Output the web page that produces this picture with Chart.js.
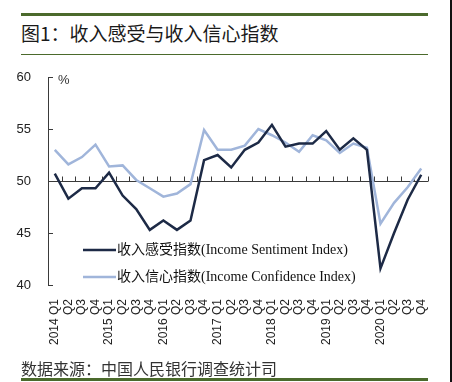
<!DOCTYPE html>
<html>
<head>
<meta charset="utf-8">
<script src="https://cdn.jsdelivr.net/npm/chart.js@4/dist/chart.umd.min.js"></script>
<style>
    html, body { margin: 0; padding: 0; background: #fff; }
    body { width: 452px; height: 382px; position: relative; overflow: hidden; }
    .rule { position: absolute; left: 21px; width: 407px; background: #4b6a2c; }
    .title { position: absolute; left: 21px; top: 23px; font: 19px/19px "Noto Sans CJK SC", sans-serif; color: #1a1a1a; white-space: nowrap; }
    .source { position: absolute; left: 21px; top: 360px; font: 16px/16px "Noto Sans CJK SC", sans-serif; color: #333; white-space: nowrap; }
    .edge { position: absolute; right: 0; top: 0; width: 2px; height: 382px; background: #111; }
    canvas { position: absolute; left: 0; top: 0; }
</style>
</head>
<body>
<div class="rule" style="top:13px;height:3px"></div>
<div class="title">图1：收入感受与收入信心指数</div>
<div class="rule" style="top:54px;height:1px"></div>
<canvas id="incomeChart" width="452" height="382"></canvas>
<div class="source">数据来源：中国人民银行调查统计司</div>
<div class="rule" style="top:378px;height:3px"></div>
<div class="edge"></div>

<script>
// Quarter labels, 2014 Q1 .. 2020 Q4
const quarters = [
    '2014 Q1', 'Q2', 'Q3', 'Q4',
    '2015 Q1', 'Q2', 'Q3', 'Q4',
    '2016 Q1', 'Q2', 'Q3', 'Q4',
    '2017 Q1', 'Q2', 'Q3', 'Q4',
    '2018 Q1', 'Q2', 'Q3', 'Q4',
    '2019 Q1', 'Q2', 'Q3', 'Q4',
    '2020 Q1', 'Q2', 'Q3', 'Q4'
];

// 收入感受指数 (Income Sentiment Index)
const sentimentValues = [
    50.7, 48.3, 49.3, 49.3,
    50.8, 48.6, 47.3, 45.3,
    46.2, 45.3, 46.2, 52.0,
    52.5, 51.3, 53.0, 53.7,
    55.4, 53.3, 53.6, 53.6,
    54.8, 53.0, 54.1, 53.0,
    41.6, 45.0, 48.2, 50.6
];

// 收入信心指数 (Income Confidence Index)
const confidenceValues = [
    53.0, 51.6, 52.3, 53.5,
    51.4, 51.5, 50.1, 49.3,
    48.5, 48.8, 49.7, 54.9,
    53.0, 53.0, 53.4, 55.0,
    54.4, 53.7, 52.8, 54.4,
    53.9, 52.7, 53.6, 53.2,
    45.9, 47.9, 49.4, 51.2
];

const yTicks = [40, 45, 50, 55, 60];
const baseLine = 50;

const seriesLabels = [
    '收入感受指数(Income Sentiment Index)',
    '收入信心指数(Income Confidence Index)'
];
const seriesColors = ['#1d2a46', '#a0b5da'];

/**
 * Axis frame: left axis with inside ticks, and the 50 line with upward ticks
 */
const axisFrame = {
    id: 'axisFrame',
    beforeDatasetsDraw(chart) {
        const { ctx, chartArea, scales } = chart;
        const x = scales.x;
        const y = scales.y;
        ctx.save();
        ctx.strokeStyle = '#3a3a3a';
        ctx.lineWidth = 1;

        // vertical axis
        ctx.beginPath();
        ctx.moveTo(chartArea.left + 0.5, y.getPixelForValue(60));
        ctx.lineTo(chartArea.left + 0.5, y.getPixelForValue(40));
        yTicks.forEach(v => {
            const py = Math.round(y.getPixelForValue(v)) + 0.5;
            ctx.moveTo(chartArea.left, py);
            ctx.lineTo(chartArea.left + 5, py);
        });
        ctx.stroke();

        // line at 50 with tick marks between quarters
        const py = Math.round(y.getPixelForValue(baseLine)) + 0.5;
        const step = x.getPixelForValue(1) - x.getPixelForValue(0);
        ctx.beginPath();
        ctx.moveTo(chartArea.left, py);
        ctx.lineTo(chartArea.right, py);
        for (let i = 1; i <= quarters.length; i++) {
            const px = Math.round(x.getPixelForValue(i) - step / 2) + 0.5;
            ctx.moveTo(px, py);
            ctx.lineTo(px, py - 5);
        }
        ctx.stroke();

        // percent sign
        ctx.fillStyle = '#333';
        ctx.font = '13px "Liberation Sans", Arial, sans-serif';
        ctx.textBaseline = 'middle';
        ctx.fillText('%', chartArea.left + 10, y.getPixelForValue(60) + 3);
        ctx.restore();
    }
};

/**
 * Legend drawn inside the plot area
 */
const innerLegend = {
    id: 'innerLegend',
    afterDatasetsDraw(chart) {
        const { ctx } = chart;
        const rows = [250, 277];
        ctx.save();
        ctx.font = '14px "Liberation Serif", "Noto Sans CJK SC", serif';
        ctx.textBaseline = 'middle';
        chart.data.datasets.forEach((ds, i) => {
            ctx.strokeStyle = ds.borderColor;
            ctx.lineWidth = 2.5;
            ctx.beginPath();
            ctx.moveTo(83, rows[i]);
            ctx.lineTo(116, rows[i]);
            ctx.stroke();
            ctx.fillStyle = '#111';
            ctx.fillText(ds.label, 117, rows[i]);
        });
        ctx.restore();
    }
};

const ctx = document.getElementById('incomeChart').getContext('2d');

new Chart(ctx, {
    type: 'line',
    data: {
        labels: quarters,
        datasets: [{
            label: seriesLabels[0],
            data: sentimentValues,
            borderColor: seriesColors[0],
            borderWidth: 2.5,
            pointRadius: 0,
            tension: 0
        }, {
            label: seriesLabels[1],
            data: confidenceValues,
            borderColor: seriesColors[1],
            borderWidth: 2.5,
            pointRadius: 0,
            tension: 0
        }]
    },
    options: {
        responsive: false,
        animation: false,
        layout: {
            padding: { top: 77, right: 24, bottom: 32, left: 8 }
        },
        plugins: {
            legend: { display: false },
            tooltip: { enabled: false }
        },
        scales: {
            x: {
                offset: true,
                afterFit: (scale) => { scale.height = 65; },
                grid: { display: false, drawTicks: false },
                border: { display: false },
                ticks: {
                    autoSkip: false,
                    minRotation: 90,
                    maxRotation: 90,
                    padding: 14,
                    color: '#222',
                    font: { family: '"Liberation Sans", Arial, sans-serif', size: 12 }
                }
            },
            y: {
                min: 40,
                max: 60,
                afterFit: (scale) => { scale.width = 40; },
                grid: { display: false, drawTicks: false },
                border: { display: false },
                ticks: {
                    stepSize: 5,
                    padding: 17,
                    color: '#222',
                    font: { family: '"Liberation Sans", Arial, sans-serif', size: 13 }
                }
            }
        }
    },
    plugins: [axisFrame, innerLegend]
});
</script>
</body>
</html>
